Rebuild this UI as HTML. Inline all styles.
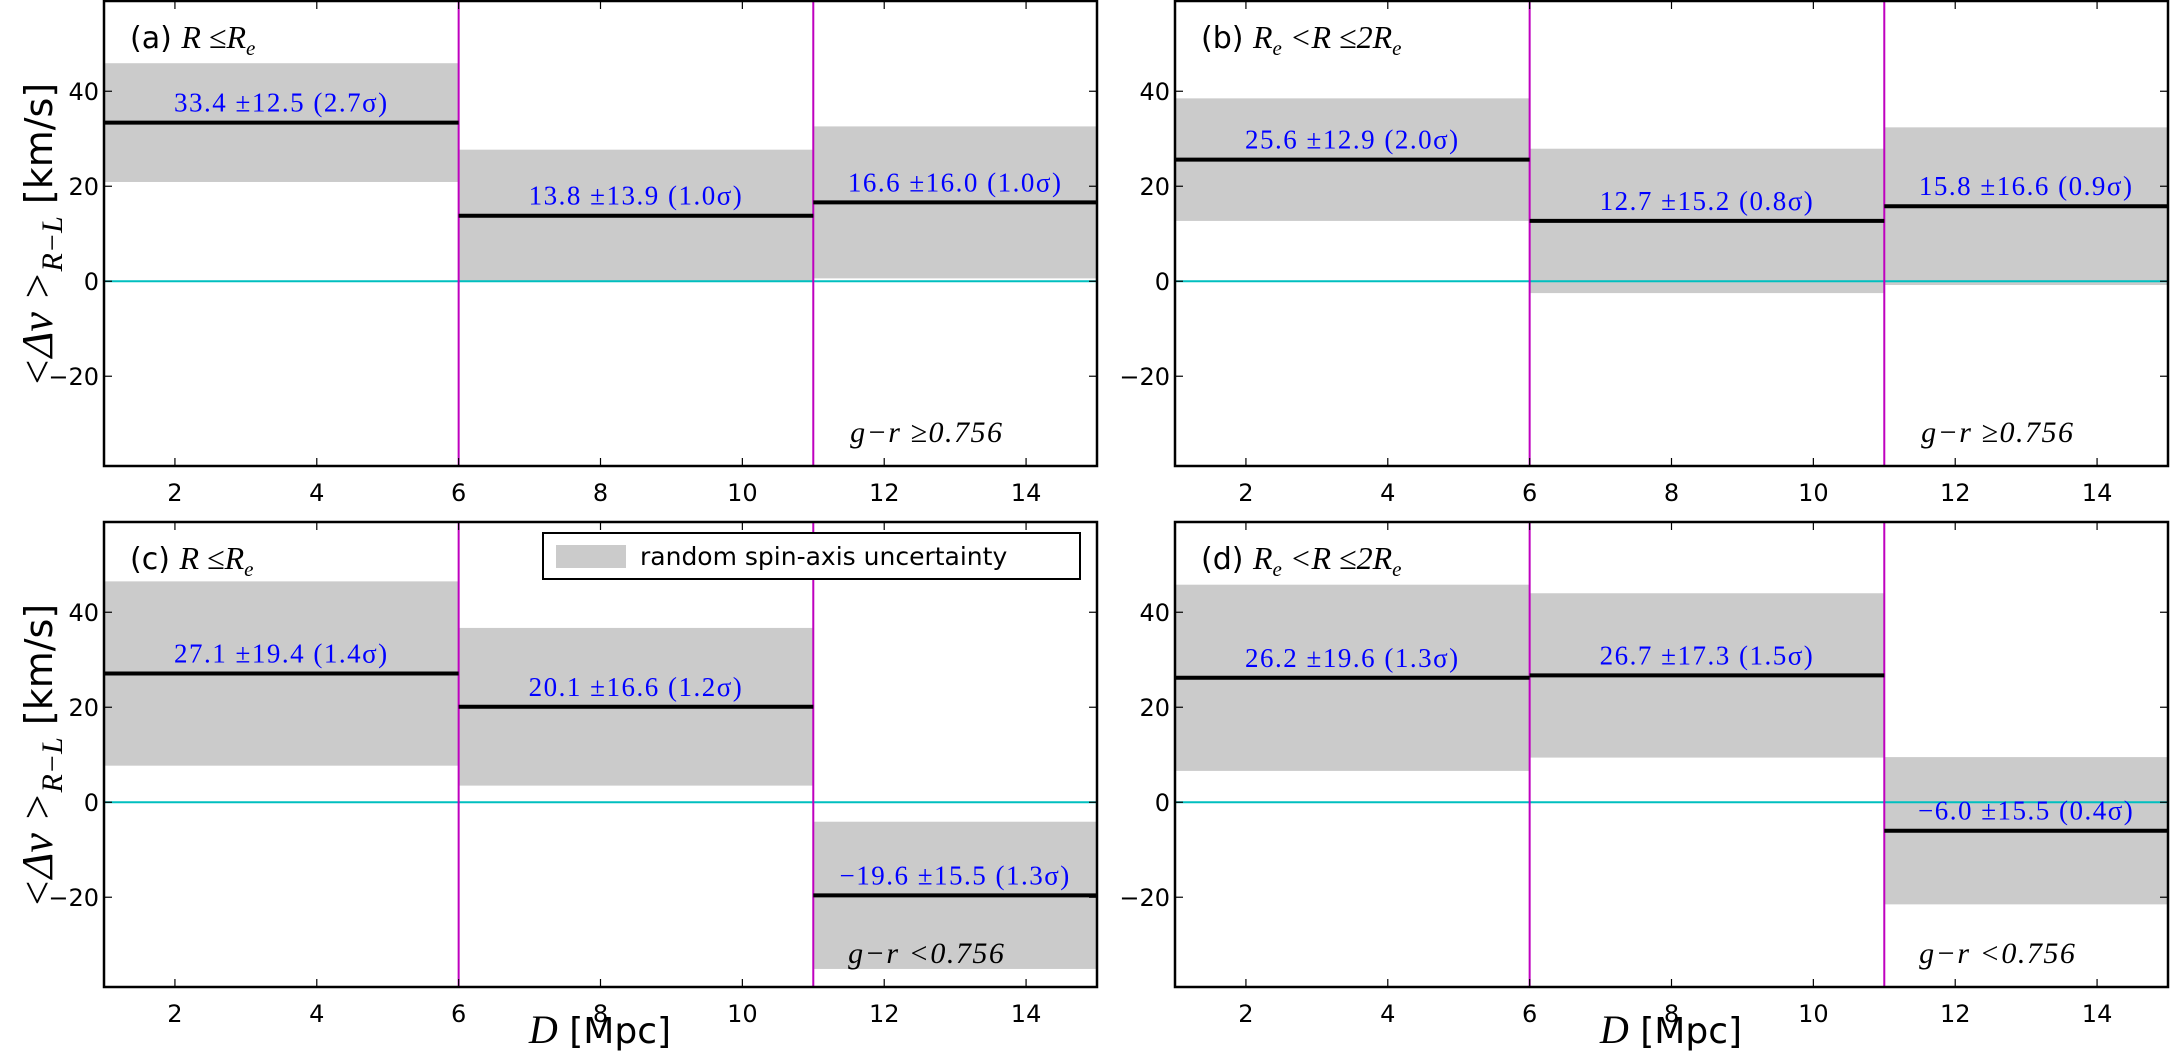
<!DOCTYPE html>
<html><head><meta charset="utf-8"><style>
html,body{margin:0;padding:0;background:#fff;width:2170px;height:1064px;overflow:hidden}
svg text{font-family:"DejaVu Sans","Liberation Sans",sans-serif}
.m{font-family:"Liberation Serif","DejaVu Serif",serif}
</style></head><body>
<svg id="chart" width="2170" height="1064" xmlns="http://www.w3.org/2000/svg"></svg>
<script>
const panelIds = ['a','b','c','d'];
const binEdges = [1, 6, 11, 15];
const meansA = [33.4, 13.8, 16.6];
const errsA = [12.5, 13.9, 16.0];
const sigA = [2.7, 1.0, 1.0];
const meansB = [25.6, 12.7, 15.8];
const errsB = [12.9, 15.2, 16.6];
const sigB = [2.0, 0.8, 0.9];
const meansC = [27.1, 20.1, -19.6];
const errsC = [19.4, 16.6, 15.5];
const sigC = [1.4, 1.2, 1.3];
const meansD = [26.2, 26.7, -6.0];
const errsD = [19.6, 17.3, 15.5];
const sigD = [1.3, 1.5, 0.4];
const xTicks = [2, 4, 6, 8, 10, 12, 14];
const yTicks = [-20, 0, 20, 40];
const xDomain = [1, 15];
const yDomain = [-38.9, 59];

const NS = 'http://www.w3.org/2000/svg';
const svg = document.getElementById('chart');
function el(tag, attrs, parent) {
  const e = document.createElementNS(NS, tag);
  for (const k in attrs) e.setAttribute(k, attrs[k]);
  (parent || svg).appendChild(e);
  return e;
}
const panels = [
  {id:'a', x0:104, y0:1, means:meansA, errs:errsA, sig:sigA, pre:'', color:'g−r ≥0.756'},
  {id:'b', x0:1175, y0:1, means:meansB, errs:errsB, sig:sigB, pre:'R', color:'g−r ≥0.756'},
  {id:'c', x0:104, y0:522, means:meansC, errs:errsC, sig:sigC, pre:'', color:'g−r <0.756'},
  {id:'d', x0:1175, y0:522, means:meansD, errs:errsD, sig:sigD, pre:'R', color:'g−r <0.756'}
];
const W = 993, H = 465;
panels.forEach(p => {
  const g = el('g', {});
  
  
  const xs = v => p.x0 + (v - xDomain[0]) / (xDomain[1] - xDomain[0]) * W;
  const ys = v => p.y0 + (yDomain[1] - v) / (yDomain[1] - yDomain[0]) * H;
  p.means.forEach((m, i) => {
    const r = el('rect', {x: xs(binEdges[i]), y: ys(m + p.errs[i]), width: xs(binEdges[i+1]) - xs(binEdges[i]), height: ys(m - p.errs[i]) - ys(m + p.errs[i]), fill: '#cbcbcb'}, g);
    
    
  });
  const z = el('line', {x1: p.x0, x2: p.x0 + W, y1: ys(0), y2: ys(0), stroke: '#00bfbf', 'stroke-width': 2}, g);
  
  
  [binEdges[1], binEdges[2]].forEach(b => {
    const v = el('line', {x1: xs(b), x2: xs(b), y1: p.y0, y2: p.y0 + H, stroke: '#bf00bf', 'stroke-width': 2}, g);
    
    
  });
  p.means.forEach((m, i) => {
    const l = el('line', {x1: xs(binEdges[i]), x2: xs(binEdges[i+1]), y1: ys(m), y2: ys(m), stroke: '#000', 'stroke-width': 4}, g);
    
    
    const t = el('text', {x: (xs(binEdges[i]) + xs(binEdges[i+1])) / 2, y: ys(m) - 11, 'text-anchor': 'middle', fill: '#0000ff', 'font-size': 27, 'letter-spacing': 1.5, class: 'm'}, g);
    t.textContent = (m < 0 ? '−' + Math.abs(m).toFixed(1) : m.toFixed(1)) + ' ±' + p.errs[i].toFixed(1) + ' (' + p.sig[i].toFixed(1) + 'σ)';
    
    
  });
  const f = el('rect', {x: p.x0, y: p.y0, width: W, height: H, fill: 'none', stroke: '#000', 'stroke-width': 2.5}, g);
  
  
  xTicks.forEach(v => {
    el('line', {x1: xs(v), x2: xs(v), y1: p.y0 + H, y2: p.y0 + H - 8, stroke: '#000', 'stroke-width': 1.2}, g);
    el('line', {x1: xs(v), x2: xs(v), y1: p.y0, y2: p.y0 + 8, stroke: '#000', 'stroke-width': 1.2}, g);
    const t = el('text', {x: xs(v), y: p.y0 + H + 35, 'text-anchor': 'middle', 'font-size': 24}, g);
    t.textContent = v;
    
    
  });
  yTicks.forEach(v => {
    el('line', {x1: p.x0, x2: p.x0 + 8, y1: ys(v), y2: ys(v), stroke: '#000', 'stroke-width': 1.2}, g);
    el('line', {x1: p.x0 + W, x2: p.x0 + W - 8, y1: ys(v), y2: ys(v), stroke: '#000', 'stroke-width': 1.2}, g);
    const t = el('text', {x: p.x0 - 5, y: ys(v) + 9, 'text-anchor': 'end', 'font-size': 24}, g);
    t.textContent = v < 0 ? '−' + Math.abs(v) : v;
    
    
  });
  const pl = el('text', {x: p.x0 + 26, y: p.y0 + 47, 'font-size': 30}, g);
  
  
  const t1 = el('tspan', {}, pl); t1.textContent = '(' + p.id + ') ';
  if (p.pre) {
    const a = el('tspan', {class: 'm', 'font-style': 'italic', 'font-size': 32}, pl); a.textContent = 'R';
    const b = el('tspan', {class: 'm', 'font-style': 'italic', 'font-size': 21, dy: 7}, pl); b.textContent = 'e';
    const c = el('tspan', {class: 'm', 'font-style': 'italic', 'font-size': 32, dy: -7}, pl); c.textContent = ' <R ≤2R';
    const d = el('tspan', {class: 'm', 'font-style': 'italic', 'font-size': 21, dy: 7}, pl); d.textContent = 'e';
  } else {
    const a = el('tspan', {class: 'm', 'font-style': 'italic', 'font-size': 32}, pl); a.textContent = 'R ≤R';
    const b = el('tspan', {class: 'm', 'font-style': 'italic', 'font-size': 21, dy: 7}, pl); b.textContent = 'e';
  }
  const cl = el('text', {x: xs(12.6), y: p.y0 + H - 24, 'text-anchor': 'middle', 'font-size': 30, 'letter-spacing': 1.5, class: 'm', 'font-style': 'italic'}, g);
  cl.textContent = p.color;
  
  
});
[[235, 'y-axis-title-top'], [756, 'y-axis-title-bottom']].forEach(([cy, nm]) => {
  const t = el('text', {x: 0, y: 0, 'text-anchor': 'middle', 'font-size': 38, transform: 'translate(52,' + cy + ') rotate(-90)'});
  
  
  const a = el('tspan', {class: 'm', 'font-style': 'italic', 'font-size': 44}, t); a.textContent = '<Δv >';
  const b = el('tspan', {class: 'm', 'font-style': 'italic', 'font-size': 30, dy: 10}, t); b.textContent = 'R−L';
  const c = el('tspan', {dy: -10}, t); c.textContent = ' [km/s]';
});
[[600, 'x-axis-title-left'], [1671, 'x-axis-title-right']].forEach(([cx, nm]) => {
  const t = el('text', {x: cx, y: 1043, 'text-anchor': 'middle', 'font-size': 36});
  
  
  const a = el('tspan', {class: 'm', 'font-style': 'italic', 'font-size': 40}, t); a.textContent = 'D';
  const b = el('tspan', {}, t); b.textContent = ' [Mpc]';
});
const lg = el('g', {});


el('rect', {x: 543, y: 533, width: 537, height: 46, fill: '#fff', stroke: '#000', 'stroke-width': 2}, lg);
const sw = el('rect', {x: 556, y: 545, width: 70, height: 23, fill: '#cbcbcb'}, lg);


const lt = el('text', {x: 640, y: 565, 'font-size': 25}, lg);
lt.textContent = 'random spin-axis uncertainty';


</script>
</body></html>
